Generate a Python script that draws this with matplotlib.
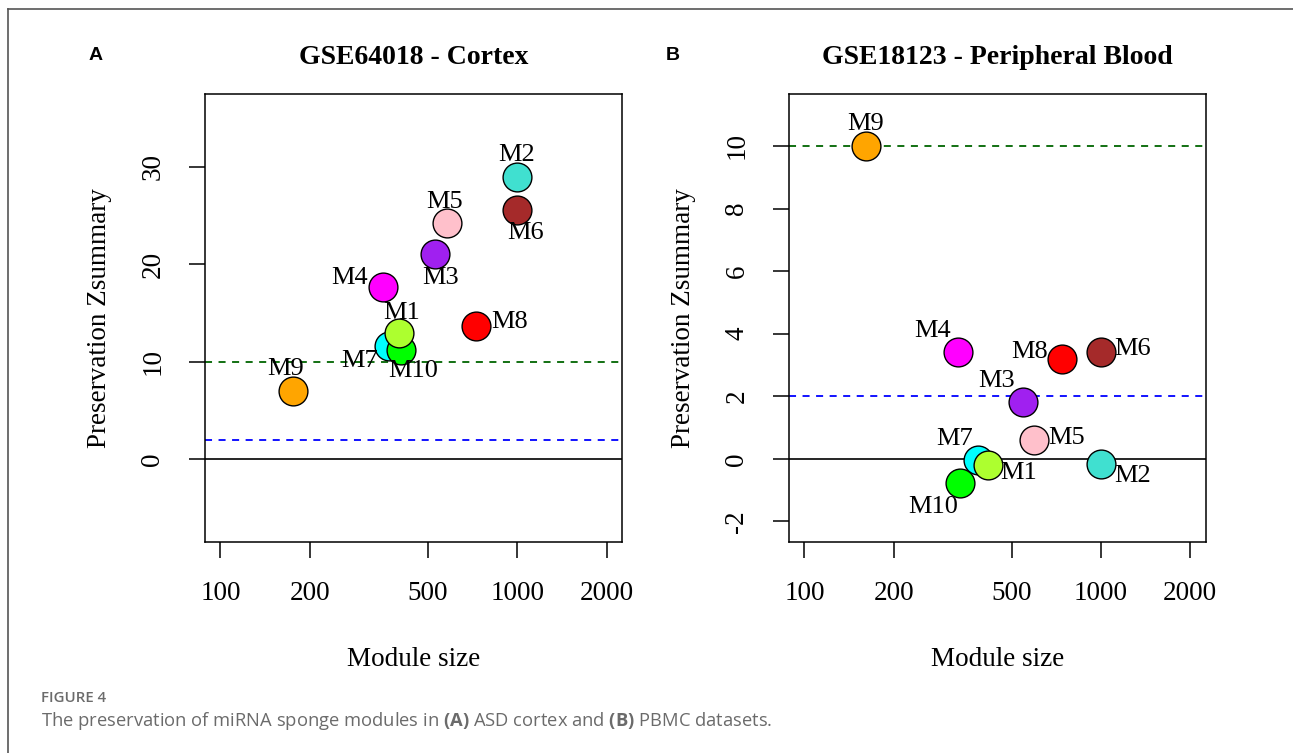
import matplotlib as mpl
mpl.use("Agg")
import matplotlib.pyplot as plt
from matplotlib.lines import Line2D
import numpy as np

# =========================
# Data
# =========================
modules = ["M1", "M2", "M3", "M4", "M5", "M6", "M7", "M8", "M9", "M10"]
colors = ["greenyellow", "turquoise", "purple", "magenta", "pink",
          "brown", "cyan", "red", "orange", "green"]
hex_colors = {
    "greenyellow": "#ADFF2F", "turquoise": "#40E0D0", "purple": "#A020F0",
    "magenta": "#FF00FF", "pink": "#FFC0CB", "brown": "#A52A2A",
    "cyan": "#00FFFF", "red": "#FF0000", "orange": "#FFA500", "green": "#00FF00",
}

# GSE64018 - Cortex
size_a = [401, 995, 530, 352, 582, 995, 371, 729, 175, 407]
zsum_a = [13.0, 28.9, 21.0, 17.7, 24.2, 25.6, 11.6, 13.7, 7.0, 11.2]

# GSE18123 - Peripheral Blood
size_b = [416, 998, 548, 330, 594, 998, 385, 737, 161, 335]
zsum_b = [-0.19, -0.15, 1.81, 3.40, 0.59, 3.41, -0.05, 3.19, 10.01, -0.77]

xticks = [100, 200, 500, 1000, 2000]
yticks_a = [0, 10, 20, 30]
yticks_b = [-2, 0, 2, 4, 6, 8, 10]

# label offsets (pixels, x right / y down)
offs_a = {"M1": (2, -20), "M2": (0, -22), "M3": (5, 24), "M4": (-33, -9),
          "M5": (-3, -21), "M6": (9, 23), "M7": (-30, 15), "M8": (33, -4),
          "M9": (-7, -22), "M10": (12, 21)}
offs_b = {"M1": (31, 8), "M2": (32, 12), "M3": (-27, -21), "M4": (-26, -21),
          "M5": (33, -2), "M6": (32, -3), "M7": (-23, -21), "M8": (-32, -7),
          "M9": (0, -22), "M10": (-27, 24)}

SERIF = ["Liberation Serif", "DejaVu Serif"]
mpl.rcParams.update({
    "font.family": SERIF,
    "axes.linewidth": 1.1,
    "mathtext.fontset": "custom",
    "mathtext.rm": "Open Sans",
    "mathtext.bf": "Open Sans:bold",
})

W, H = 1293, 753
fig = plt.figure(figsize=(W / 100, H / 100), dpi=100)
DASH = (0, (3.9, 3.6))


def panel(rect, sizes, zs, yticks, ylim, title, offs, letter, letter_x):
    ax = fig.add_axes(rect)
    order = sorted(range(len(modules)), key=lambda i: colors[i])
    ax.axhline(0, color="black", lw=1.2, zorder=1)
    ax.axhline(10, color="#006400", lw=1.3, ls=DASH, zorder=1)
    ax.axhline(2, color="#0000FF", lw=1.3, ls=DASH, zorder=1)
    for i in order:
        ax.scatter(sizes[i], zs[i], s=430, color=hex_colors[colors[i]],
                   edgecolor="black", linewidth=1.0, zorder=3)
        dx, dy = offs[modules[i]]
        ax.annotate(modules[i], (sizes[i], zs[i]), xytext=(dx, -dy),
                    textcoords="offset pixels", ha="center", va="center",
                    fontsize=19, zorder=4)
    ax.set_xscale("log")
    lx0, lx1 = np.log10(100), np.log10(2000)
    pad = (lx1 - lx0) * 0.04
    ax.set_xlim(10 ** (lx0 - pad), 10 ** (lx1 + pad))
    ax.set_ylim(*ylim)
    ax.set_xticks(xticks)
    ax.set_xticklabels([str(t) for t in xticks])
    ax.xaxis.set_minor_locator(mpl.ticker.NullLocator())
    ax.set_yticks(yticks)
    ax.set_yticklabels([str(t) for t in yticks], rotation=90, va="center")
    ax.tick_params(axis="both", length=11.5, width=1.1, labelsize=19.5,
                   pad=17)
    ax.set_title(title, fontsize=20, fontweight="bold", pad=22)
    ax.text(0.5, -0.263, "Module size", transform=ax.transAxes,
            ha="center", va="center", fontsize=19.5)
    ax.text(-0.254, 0.5, "Preservation Zsummary", transform=ax.transAxes,
            ha="center", va="center", rotation=90, fontsize=19.5)
    fig.text(letter_x, 1 - 55 / H, letter, ha="center", va="center",
             fontsize=14, fontweight="bold", family="Liberation Sans")
    return ax


panel([205 / W, 1 - 541.5 / H, 417 / W, 447.2 / H], size_a, zsum_a,
      yticks_a, (-8.4, 37.4), "GSE64018 - Cortex", offs_a, "A", 96 / W)
panel([789 / W, 1 - 541.5 / H, 416.5 / W, 447.2 / H], size_b, zsum_b,
      yticks_b, (-2.64, 11.65), "GSE18123 - Peripheral Blood", offs_b,
      "B", 673 / W)

# frame
fig.add_artist(Line2D([8 / W, 1], [1 - 9.3 / H, 1 - 9.3 / H],
                      color="#555555", lw=1.2))
fig.add_artist(Line2D([8 / W, 8 / W], [0, 1 - 9.3 / H],
                      color="#555555", lw=1.2))

# caption
fig.text(41 / W, 1 - 698 / H, "FIGURE 4", ha="left", va="center",
         fontsize=10.8, fontweight="semibold", family="Open Sans",
         color="#6b6b6b")
fig.text(41 / W, 1 - 721 / H,
         r"The preservation of miRNA sponge modules in $\mathbf{(A)}$ ASD cortex "
         r"and $\mathbf{(B)}$ PBMC datasets.",
         ha="left", va="center", fontsize=13.2, family="Open Sans",
         color="#6b6b6b")

fig.savefig("out.png", dpi=100)
